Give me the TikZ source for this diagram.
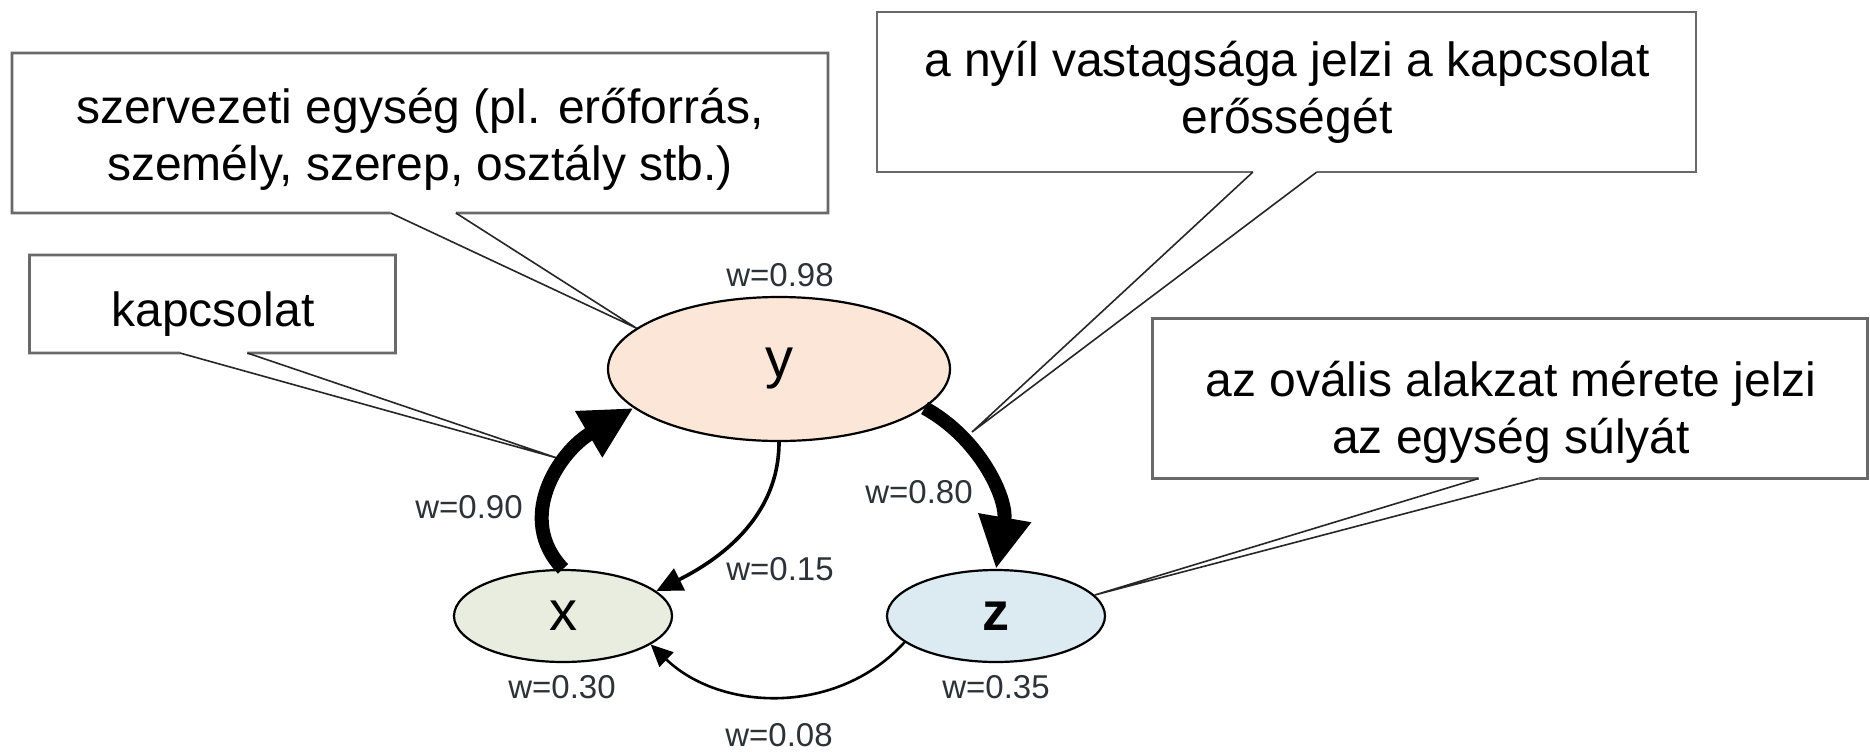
\documentclass[tikz,border=0pt]{standalone}
\usepackage{fontspec}
\setmainfont{Liberation Sans}
\usetikzlibrary{arrows.meta,shapes.geometric,calc}
\definecolor{yfill}{RGB}{252,230,216}
\definecolor{xfill}{RGB}{232,237,224}
\definecolor{zfill}{RGB}{220,234,242}
\definecolor{boxline}{RGB}{105,105,105}
\definecolor{lbl}{RGB}{45,50,55}
\begin{document}
\begin{tikzpicture}[x=0.5pt,y=-0.5pt,
  ent/.style={ellipse, draw=black, line width=1.1pt, inner sep=0pt, font=\fontsize{28}{32}\selectfont},
  cbox/.style={rectangle, draw=none, fill=white, inner sep=0pt, outer sep=0pt},
  cline/.style={draw=boxline, line width=1.4pt, line join=miter},
  ctext/.style={align=center, font=\fontsize{24}{28.5}\selectfont, inner sep=0pt},
  wlbl/.style={font=\fontsize{16.5}{18}\selectfont, text=lbl, inner sep=0pt},
  ptr/.style={draw=black!85, line width=0.8pt, line join=miter},
  strongarrow/.style={line width=7pt, -{Triangle[length=26pt,width=25pt]}},
  weakarrow/.style={line width=1.8pt, -{Triangle[length=13pt,width=12pt]}},
  weakestarrow/.style={line width=1.3pt, -{Triangle[length=11pt,width=10pt]}}
]
\useasboundingbox (0,0) rectangle (1870,751);

% callout boxes
\node[cbox, minimum width=408pt, minimum height=80pt] (b1) at (420,133) {};
\node[cbox, minimum width=183pt, minimum height=49pt] (b2) at (212.5,304) {};
\node[cbox, minimum width=409.5pt, minimum height=80pt] (b3) at (1286.5,92) {};
\node[cbox, minimum width=357.5pt, minimum height=80pt] (b4) at (1510,398.5) {};

% pointer bases
\coordinate (b1l) at ($(b1.south west)!0.464!(b1.south east)$);
\coordinate (b1r) at ($(b1.south west)!0.544!(b1.south east)$);
\coordinate (b2l) at ($(b2.south west)!0.411!(b2.south east)$);
\coordinate (b2r) at ($(b2.south west)!0.595!(b2.south east)$);
\coordinate (b3l) at ($(b3.south west)!0.459!(b3.south east)$);
\coordinate (b3r) at ($(b3.south west)!0.537!(b3.south east)$);
\coordinate (b4l) at ($(b4.south west)!0.456!(b4.south east)$);
\coordinate (b4r) at ($(b4.south west)!0.540!(b4.south east)$);

% box outlines with gap for pointer
\draw[cline] (b1r) -- (b1.south east) -- (b1.north east) -- (b1.north west) -- (b1.south west) -- (b1l);
\draw[cline] (b2r) -- (b2.south east) -- (b2.north east) -- (b2.north west) -- (b2.south west) -- (b2l);
\draw[cline] (b3r) -- (b3.south east) -- (b3.north east) -- (b3.north west) -- (b3.south west) -- (b3l);
\draw[cline] (b4r) -- (b4.south east) -- (b4.north east) -- (b4.north west) -- (b4.south west) -- (b4l);

% box texts
\node[ctext] (t1) at (420,139) {szervezeti egység (pl. erőforrás,\\személy, szerep, osztály stb.)};
\node[ctext] (t2) at (213,314) {kapcsolat};
\node[ctext] (t3) at (1287,92) {a nyíl vastagsága jelzi a kapcsolat\\erősségét};
\node[ctext] (t4) at (1511,412) {az ovális alakzat mérete jelzi\\az egység súlyát};

% entities
\node[ent, fill=yfill, minimum width=171pt, minimum height=72pt] (y) at (779,369) {y};
\node[ent, fill=xfill, minimum width=109pt, minimum height=46pt] (x) at (563,616) {x};
\node[ent, fill=zfill, minimum width=109pt, minimum height=46pt, font=\fontsize{27}{32}\selectfont\bfseries] (z) at (996,616) {z};

% pointer tips on arrows
\coordinate (kp) at (557,458);
\coordinate (np) at (972,432);

% pointers
\draw[ptr] (b1l) -- (y.164) -- (b1r);
\draw[ptr] (b2l) -- (kp) -- (b2r);
\draw[ptr] (b3l) -- (np) -- (b3r);
\draw[ptr] (b4l) -- (z.12) -- (b4r);

% connections
\draw[strongarrow] (x.north) .. controls +(-48,-50) and +(-75,44) .. (y.195);
\draw[strongarrow] (y.345) .. controls +(55,30) and +(12,-70) .. (z.north);
\draw[weakarrow] (y.south) .. controls +(0,77) and +(60,-30) .. (x.15);
\draw[weakestarrow] (z.196) .. controls +(-66,73) and +(71,68) .. (x.-18);

% weights
\node[wlbl] (wy) at (780,275) {w=0.98};
\node[wlbl] (wx) at (562,687) {w=0.30};
\node[wlbl] (wz) at (996,687) {w=0.35};
\node[wlbl] (wxy) at (469,507) {w=0.90};
\node[wlbl] (wyz) at (919,492) {w=0.80};
\node[wlbl] (wyx) at (780,569) {w=0.15};
\node[wlbl] (wzx) at (779,735) {w=0.08};
\end{tikzpicture}
\end{document}
